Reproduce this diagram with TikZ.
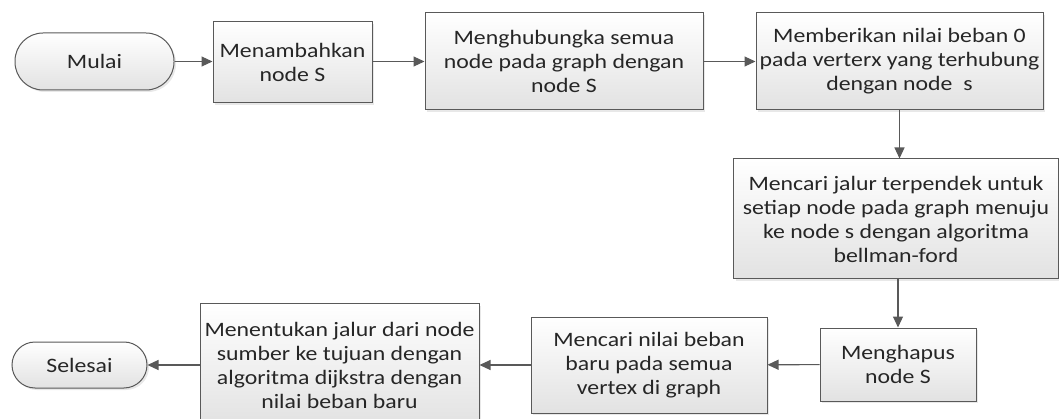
\documentclass[tikz,border=0pt]{standalone}
\usepackage{fontspec}
\setmainfont{Carlito}[FakeStretch=1.16]
\usetikzlibrary{arrows.meta,shadows}

\definecolor{edge}{HTML}{595959}
\definecolor{ink}{HTML}{262626}
\definecolor{shade}{HTML}{E2E2E2}

\tikzset{
  flowbox/.style={draw=edge, line width=1pt, top color=white, bottom color=shade,
    inner sep=0pt, align=center, text=ink,
    font=\fontsize{20.5pt}{24pt}\selectfont,
    drop shadow={opacity=0.18, shadow xshift=2pt, shadow yshift=-2pt}},
  terminal/.style={flowbox, rounded corners=#1},
  link/.style={draw=edge, line width=1.1pt,
    -{Triangle[length=11pt,width=10pt,fill=edge]}},
}

\begin{document}
\begin{tikzpicture}
  \useasboundingbox (0pt,0pt) rectangle (1059pt,-419pt);

  % top row
  \node[terminal=28pt, minimum width=159pt, minimum height=57pt] (start) at (94.5pt,-61.5pt) {Mulai};
  \node[flowbox, minimum width=159pt, minimum height=81pt] (addS) at (292.5pt,-62.5pt)
    {Menambahkan\\node S};
  \node[flowbox, minimum width=278pt, minimum height=97pt] (connect) at (564pt,-61.5pt)
    {Menghubungka semua\\node pada graph dengan\\node S};
  \node[flowbox, minimum width=287pt, minimum height=97pt] (zero) at (899.5pt,-61.5pt)
    {Memberikan nilai beban 0\\pada verterx yang terhubung\\dengan node\ \ s};

  % right column
  \node[flowbox, minimum width=325pt, minimum height=120pt] (bellman) at (896pt,-219pt)
    {Mencari jalur terpendek untuk\\setiap node pada graph menuju\\ke node s dengan algoritma\\bellman-ford};
  \node[flowbox, minimum width=156pt, minimum height=73pt] (removeS) at (898pt,-364.5pt)
    {Menghapus\\node S};

  % bottom row
  \node[flowbox, minimum width=236pt, minimum height=96pt] (reweight) at (649pt,-365pt)
    {Mencari nilai beban\\baru pada semua\\vertex di graph};
  \node[flowbox, minimum width=279pt, minimum height=122pt] (dijkstra) at (339.5pt,-365pt)
    {Menentukan jalur dari node\\sumber ke tujuan dengan\\algoritma dijkstra dengan\\nilai beban baru};
  \node[terminal=23pt, minimum width=135pt, minimum height=46pt] (stop) at (79.5pt,-365pt) {Selesai};

  % connectors
  \draw[link] (start) -- (addS.west |- start.east);
  \draw[link] (addS.east |- start.east) -- (connect.west |- start.east);
  \draw[link] (connect) -- (zero);
  \draw[link] (zero.south) -- (zero.south |- bellman.north);
  \draw[link] (removeS.north |- bellman.south) -- (removeS.north);
  \draw[link] (removeS) -- (reweight);
  \draw[link] (reweight) -- (dijkstra);
  \draw[link] (dijkstra) -- (stop);
\end{tikzpicture}
\end{document}
